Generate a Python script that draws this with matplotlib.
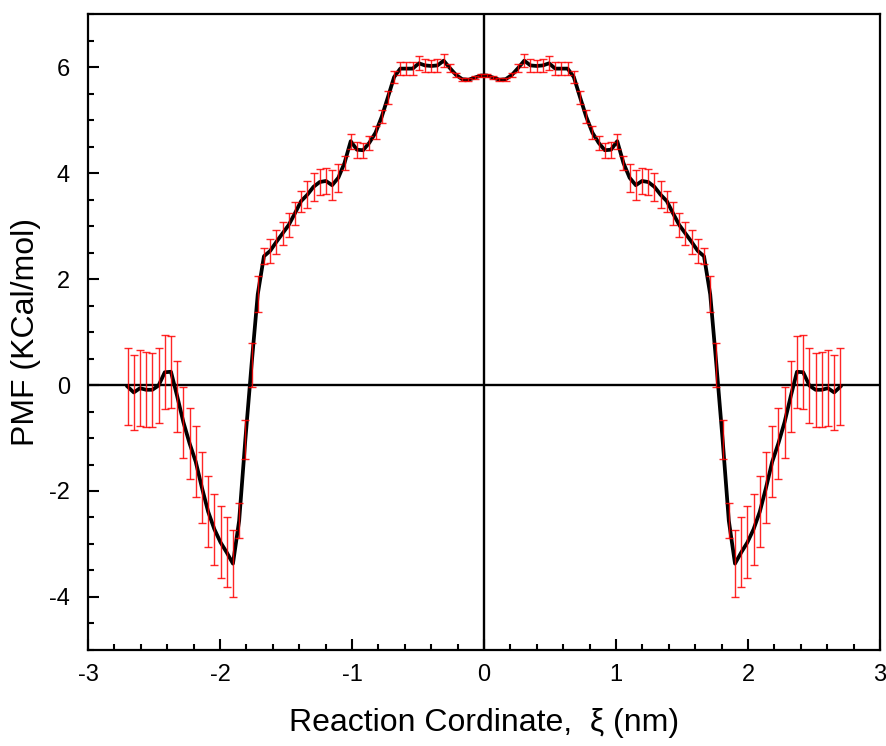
import numpy as np
import matplotlib.pyplot as plt
from matplotlib.ticker import MultipleLocator

plt.rcParams['font.family'] = ['Liberation Sans', 'DejaVu Sans']
plt.rcParams['axes.unicode_minus'] = False

# reaction coordinate grid (nm), 116 windows from -2.7 to 2.7
xi = np.linspace(-2.70, 2.70, 116)

pmf_half = [-0.03, -0.14, -0.06, -0.09, -0.09, -0.01, 0.24, 0.25, -0.21, -0.70,
            -1.10, -1.45, -1.94, -2.39, -2.72, -2.97, -3.16, -3.37, -2.56, -1.03,
            0.38, 1.71, 2.43, 2.53, 2.70, 2.86, 3.02, 3.24, 3.47, 3.59,
            3.74, 3.83, 3.85, 3.77, 3.91, 4.19, 4.60, 4.44, 4.43, 4.57,
            4.76, 5.06, 5.43, 5.81, 5.97, 5.97, 5.97, 6.07, 6.03, 6.02,
            6.03, 6.12, 5.98, 5.85, 5.77, 5.76, 5.80, 5.84]
err_half = [0.72, 0.71, 0.72, 0.71, 0.70, 0.70, 0.70, 0.68, 0.67, 0.67,
            0.67, 0.67, 0.67, 0.67, 0.67, 0.68, 0.66, 0.63, 0.33, 0.37,
            0.41, 0.34, 0.15, 0.23, 0.22, 0.22, 0.22, 0.22, 0.20, 0.25,
            0.26, 0.25, 0.25, 0.28, 0.26, 0.14, 0.14, 0.15, 0.14, 0.13,
            0.12, 0.12, 0.12, 0.12, 0.12, 0.12, 0.12, 0.13, 0.12, 0.12,
            0.12, 0.12, 0.07, 0.04, 0.03, 0.03, 0.03, 0.03]

pmf = np.array(pmf_half + pmf_half[::-1])
err = np.array(err_half + err_half[::-1])

fig = plt.figure(figsize=(8.86, 7.46), dpi=100)
ax = fig.add_axes([0.0993, 0.1287, 0.8939, 0.8525])

ax.axhline(0, color='black', lw=1.7, zorder=1)
ax.axvline(0, color='black', lw=1.7, zorder=1)

ax.plot(xi, pmf, color='black', lw=2.7, zorder=2)
ax.errorbar(xi, pmf, yerr=err, fmt='none', ecolor='red', elinewidth=1.0,
            capsize=2.8, capthick=1.0, alpha=0.85, zorder=3)

ax.set_xlim(-3, 3)
ax.set_ylim(-5, 7)
ax.xaxis.set_major_locator(MultipleLocator(1))
ax.xaxis.set_minor_locator(MultipleLocator(0.2))
ax.yaxis.set_major_locator(MultipleLocator(2))
ax.yaxis.set_minor_locator(MultipleLocator(0.5))

ax.tick_params(which='both', direction='in', top=False, right=False, width=1.5)
ax.tick_params(which='major', length=8, labelsize=17)
ax.tick_params(axis='x', which='major', pad=10)
ax.tick_params(axis='y', which='major', pad=13)
ax.tick_params(which='minor', length=4.5)
for s in ax.spines.values():
    s.set_linewidth(1.6)

ax.set_xlabel('Reaction Cordinate,  ξ (nm)', fontsize=23, labelpad=16)
ax.set_ylabel('PMF (KCal/mol)', fontsize=23, labelpad=6)

fig.savefig('out.png', dpi=100)
